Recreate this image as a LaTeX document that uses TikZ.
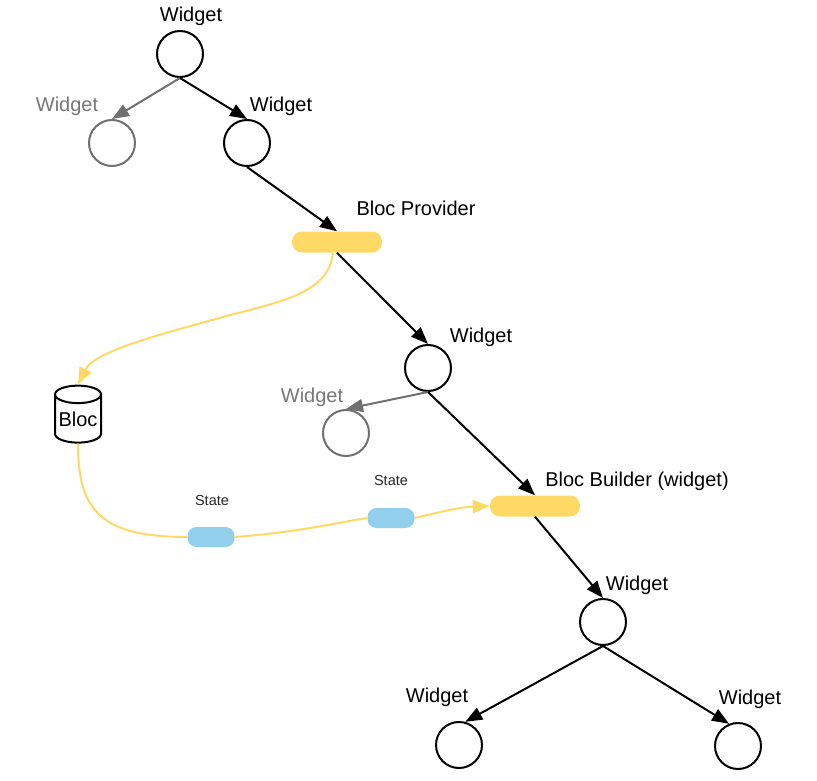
\documentclass[tikz,border=0pt]{standalone}
\usepackage{fontspec}
\setmainfont{Liberation Sans}
\usetikzlibrary{arrows.meta,shapes.geometric}
\definecolor{pillyellow}{HTML}{FFD966}
\definecolor{pillblue}{HTML}{92CFEC}
\definecolor{midgray}{HTML}{707070}
\definecolor{txtgray}{HTML}{777777}
\begin{document}
\begin{tikzpicture}[x=1pt,y=-1pt,
  wnode/.style={circle,draw=black,line width=2pt,minimum size=46pt,inner sep=0pt},
  gnode/.style={wnode,draw=midgray},
  lbl/.style={font=\fontsize{20}{22}\selectfont,inner sep=0pt},
  glbl/.style={lbl,text=txtgray},
  slbl/.style={font=\fontsize{14.5}{16}\selectfont,inner sep=0pt,text=black!85},
  ypill/.style={rectangle,rounded corners=10pt,fill=pillyellow,minimum width=90pt,minimum height=21pt,inner sep=0pt},
  bpill/.style={rectangle,rounded corners=9pt,fill=pillblue,minimum width=47pt,minimum height=20pt,inner sep=0pt},
  arr/.style={-{Triangle[length=17pt,width=13pt]},line width=2pt,black},
  garr/.style={arr,midgray},
  yline/.style={line width=2pt,pillyellow},
  yarr/.style={yline,-{Triangle[length=17pt,width=13pt]}}
]
\useasboundingbox (0,0) rectangle (817,781);
\fill[white] (0,0) rectangle (817,781);

% nodes
\node[wnode] (w1) at (180,54) {};
\node[gnode] (w2) at (112,143) {};
\node[wnode] (w3) at (247,143) {};
\node[ypill] (bp) at (337,242) {};
\node[wnode] (w4) at (428,368) {};
\node[gnode] (w5) at (346,433) {};
\node[ypill] (bb) at (535,506) {};
\node[wnode] (w6) at (603,622) {};
\node[wnode] (w7) at (459,745) {};
\node[wnode] (w8) at (738,746) {};
\node[cylinder,shape border rotate=90,draw,line width=2pt,aspect=0.45,
      minimum width=46pt,minimum height=57pt,inner sep=0pt,font=\fontsize{20}{22}\selectfont] (bloc) at (78,419) {Bloc};
\node[bpill] (s1) at (211,537) {};
\node[bpill] (s2) at (391,518) {};

% labels
\node[lbl] (l1) at (191,16) {Widget};
\node[glbl] (l2) at (67,106) {Widget};
\node[lbl] (l3) at (281,106) {Widget};
\node[lbl] (lbp) at (416,208) {Bloc Provider};
\node[lbl] (l4) at (481,337) {Widget};
\node[glbl] (l5) at (312,397) {Widget};
\node[lbl] (lbb) at (637,481) {Bloc Builder (widget)};
\node[lbl] (l6) at (637,585) {Widget};
\node[lbl] (l7) at (437,697) {Widget};
\node[lbl] (l8) at (750,699) {Widget};
\node[slbl] (ls1) at (212,501) {State};
\node[slbl] (ls2) at (391,481) {State};

% black / gray connectors
\draw[garr] (w1.south) -- (w2.north);
\draw[arr] (w1.south) -- (w3.north);
\draw[arr] (w3.south) -- (bp.north);
\draw[arr] (bp.south) -- (w4.north);
\draw[garr] (w4.south) -- (w5.north);
\draw[arr] (w4.south) -- (bb.north);
\draw[arr] (bb.south) -- (w6.north);
\draw[arr] (w6.south) -- (w7.75);
\draw[arr] (w6.south) -- (w8.112);

% yellow flows
\draw[yarr] ([xshift=-4pt]bp.south) .. controls (329,290) and (290,300) .. (230,315)
   .. controls (170,332) and (95,350) .. (bloc.north);
\draw[yline] (bloc.south) .. controls (78,510) and (100,537) .. (s1.west);
\draw[yline] (s1.east) .. controls (300,532) and (340,522) .. (s2.west);
\draw[yarr] (s2.east) .. controls (440,512) and (460,507) .. (bb.west);
\end{tikzpicture}
\end{document}
